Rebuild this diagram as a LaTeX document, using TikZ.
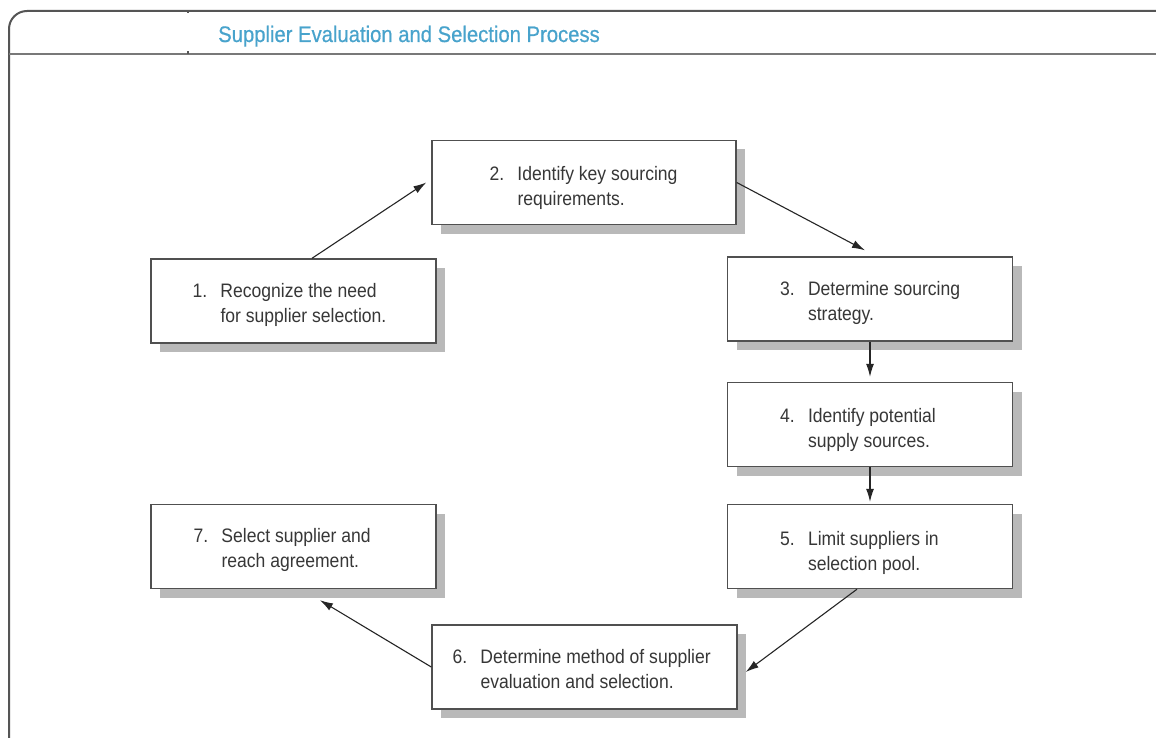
\documentclass[tikz,border=0pt]{standalone}
\usepackage{fontspec}
\setmainfont{Liberation Sans}
\newfontfamily\boxfont{Liberation Sans}[FakeStretch=0.9]
\newfontfamily\titlefont{Liberation Sans}[FakeStretch=0.9,FakeBold=0.6]
\usetikzlibrary{arrows.meta,shadows}
\definecolor{titleblue}{RGB}{72,163,204}
\definecolor{txtgray}{RGB}{55,55,55}
\definecolor{edgegray}{RGB}{80,80,80}
\definecolor{shgray}{RGB}{185,185,185}
\definecolor{framegray}{RGB}{85,85,85}
\definecolor{rulegray}{RGB}{120,120,120}
\newcommand\steptext[3]{\begin{tabular}{@{}l@{}l@{}}\makebox[28pt][l]{#1}&#2\\&#3\end{tabular}}
\begin{document}
\begin{tikzpicture}[x=1pt,y=-1pt,
  stepbox/.style={draw=edgegray, line width=1.4pt, fill=white, minimum width=285pt, minimum height=84pt, inner sep=0pt,
    drop shadow={shadow xshift=9pt, shadow yshift=-9pt, fill=shgray, opacity=1}},
  steptxt/.style={anchor=west, inner sep=0pt, text=txtgray, font=\boxfont\fontsize{19.5}{25}\selectfont},
  flow/.style={draw=black!85, line width=1.1pt, -{Latex[length=13pt,width=8pt]}}]
\useasboundingbox[fill=white] (0,0) rectangle (1156,738);
% frame
\draw[framegray, line width=2pt, rounded corners=18pt] (9,740) -- (9,11) -- (1158,11);
\draw[rulegray, line width=1.8pt] (9,54) -- (1158,54);
\draw[framegray, line width=1.4pt] (188,11) -- (188,13.5);
\draw[framegray, line width=1.4pt] (188,51.5) -- (188,54);
\node[anchor=base west, inner sep=0pt, text=titleblue, font=\titlefont\fontsize{22.5}{27}\selectfont] (title) at (218,42) {Supplier Evaluation and Selection Process};
% boxes
\node[stepbox] (b1) at (293.5,301) {};
\node[stepbox, minimum width=304pt] (b2) at (584,182.5) {};
\node[stepbox] (b3) at (870,299) {};
\node[stepbox] (b4) at (870,424.5) {};
\node[stepbox] (b5) at (870,546.5) {};
\node[stepbox, minimum width=305pt] (b6) at (584.5,667) {};
\node[stepbox] (b7) at (293.5,546.5) {};
% texts
\node[steptxt] (t1) at ([xshift=42pt,yshift=-3.5pt]b1.west) {\steptext{1.}{Recognize the need}{for supplier selection.}};
\node[steptxt] (t2) at ([xshift=58pt,yshift=-6pt]b2.west) {\steptext{2.}{Identify key sourcing}{requirements.}};
\node[steptxt] (t3) at ([xshift=53pt,yshift=-3.5pt]b3.west) {\steptext{3.}{Determine sourcing}{strategy.}};
\node[steptxt] (t4) at ([xshift=53pt,yshift=-5pt]b4.west) {\steptext{4.}{Identify potential}{supply sources.}};
\node[steptxt] (t5) at ([xshift=53pt,yshift=-6pt]b5.west) {\steptext{5.}{Limit suppliers in}{selection pool.}};
\node[steptxt] (t6) at ([xshift=21pt,yshift=-4pt]b6.west) {\steptext{6.}{Determine method of supplier}{evaluation and selection.}};
\node[steptxt] (t7) at ([xshift=43pt,yshift=-3pt]b7.west) {\steptext{7.}{Select supplier and}{reach agreement.}};
% arrows
\draw[flow] ([xshift=18.5pt]b1.north) -- ([xshift=-5pt]b2.west);
\draw[flow] (b2.east) -- ([xshift=-5pt,yshift=6pt]b3.north);
\draw[flow] (b3.south) -- ([yshift=5pt]b4.north);
\draw[flow] (b4.south) -- ([yshift=2pt]b5.north);
\draw[flow] ([xshift=-13pt]b5.south) -- ([xshift=8pt,yshift=-5pt]b6.east);
\draw[flow] (b6.west) -- ([xshift=26.5pt,yshift=-11pt]b7.south);
\end{tikzpicture}
\end{document}
